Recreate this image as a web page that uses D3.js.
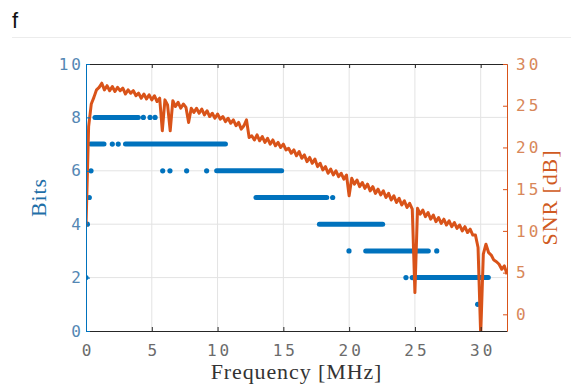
<!DOCTYPE html>
<html>
<head>
<meta charset="utf-8">
<script src="https://cdn.jsdelivr.net/npm/d3@7"></script>
<style>
  body { margin: 0; background: #fff; }
  svg { display: block; }
  .tick-label { font-family: 'DejaVu Sans Mono', monospace; font-size: 16px; letter-spacing: 3px; }
  .axis-title { font-family: 'Liberation Serif', serif; font-size: 22px; letter-spacing: 0.9px; }
</style>
</head>
<body>
<svg id="chart" width="571" height="386"></svg>
<script>
// bit allocation: continuous runs of carriers at the same bit count
const runStart = [0.35, 0.68, 3.0, 9.93, 12.92, 17.74, 21.26, 25.13];
const runEnd   = [1.37, 3.98, 10.6, 14.87, 18.3, 22.55, 26.02, 30.58];
const runBits  = [7, 8, 7, 6, 5, 4, 3, 2];

// isolated carriers
const dotFreq = [0.0, 0.1, 0.25, 0.38, 2.0, 2.45, 4.36, 4.87, 5.25, 5.83, 6.38, 7.65, 9.17, 18.75, 19.99, 26.66, 24.32, 24.8, 29.77];
const dotBits = [2, 4, 5, 6, 7, 7, 8, 8, 8, 6, 6, 6, 6, 5, 3, 3, 2, 2, 1];

// SNR trace, sampled every 0.2 MHz from 0 to 32 MHz
const SNR_STEP = 0.2;
const snrDb = [
  10.5, 22.5, 25.2, 26.0, 26.9, 27.2, 27.7, 26.9, 27.4, 26.8,
  27.3, 26.7, 27.2, 26.8, 27.1, 26.4, 26.9, 26.5, 26.8, 26.2,
  26.5, 25.9, 26.4, 25.8, 26.3, 25.7, 26.2, 25.5, 25.9, 22.0,
  25.7, 25.1, 22.0, 25.6, 24.9, 25.4, 24.7, 25.2, 24.8, 23.0,
  24.7, 24.2, 24.7, 24.1, 24.6, 23.9, 24.4, 23.7, 24.1, 23.5,
  24.0, 23.4, 23.7, 23.1, 23.5, 22.9, 23.3, 22.6, 23.0, 22.2,
  22.6, 23.3, 21.2, 21.4, 20.9, 21.5, 20.8, 21.3, 20.6, 21.1,
  20.4, 20.9, 20.2, 20.6, 20.0, 20.4, 19.7, 19.9, 19.3, 19.7,
  19.0, 19.5, 18.7, 19.1, 18.3, 18.8, 18.1, 18.6, 17.7, 18.1,
  17.3, 17.7, 16.9, 17.4, 16.7, 17.2, 16.5, 16.9, 16.2, 16.7,
  14.2, 16.3, 15.6, 16.1, 15.3, 15.8, 15.1, 15.6, 14.8, 15.3,
  14.5, 15.0, 14.3, 14.8, 14.0, 14.5, 13.7, 14.2, 13.4, 13.9,
  13.1, 13.6, 12.8, 13.3, 12.6, 2.6, 12.7, 12.0, 12.5, 11.7,
  12.2, 11.4, 11.9, 11.1, 11.6, 10.9, 11.4, 10.7, 11.2, 10.5,
  11.0, 10.3, 10.7, 10.0, 10.5, 9.8, 10.2, 9.5, 9.5, 8.0,
  -2.5, 7.2, 8.4, 7.4, 7.1, 6.5, 6.3, 6.0, 5.4, 5.8,
  4.8
];

const xTicks = [0, 5, 10, 15, 20, 25, 30];
const bitTicks = [0, 2, 4, 6, 8, 10];
const snrTicks = [0, 5, 10, 15, 20, 25, 30];

const BLUE = '#0072BD';
const ORANGE = '#D95319';
const MARGINS = { top: 64, right: 64, bottom: 55, left: 86 };

const svg = d3.select('#chart');
const W = +svg.attr('width');
const H = +svg.attr('height');
const plotW = W - MARGINS.left - MARGINS.right;
const plotH = H - MARGINS.top - MARGINS.bottom;

// panel letter + separator
svg.append('line')
  .attr('x1', 12).attr('x2', W).attr('y1', 37.5).attr('y2', 37.5)
  .attr('stroke', '#ececec');
svg.append('text')
  .attr('x', 12).attr('y', 28)
  .attr('font-family', 'Liberation Sans, sans-serif')
  .attr('font-size', 22)
  .attr('fill', '#111')
  .text('f');

const x = d3.scaleLinear().domain([0, 32]).range([0, plotW]);
const yBits = d3.scaleLinear().domain([0, 10]).range([plotH, 0]);
const ySnr = d3.scaleLinear().domain([-2, 30]).range([plotH, 0]);

const g = svg.append('g').attr('transform', `translate(${MARGINS.left},${MARGINS.top})`);

svg.append('defs').append('clipPath').attr('id', 'plot-clip')
  .append('rect').attr('width', plotW).attr('height', plotH);

// grid
const grid = g.append('g').attr('class', 'grid').attr('stroke', '#e3e3e3').attr('stroke-width', 1);
grid.selectAll('line.v')
  .data(xTicks.filter(d => d > 0))
  .join('line')
  .attr('class', 'v')
  .attr('x1', d => x(d)).attr('x2', d => x(d))
  .attr('y1', 0).attr('y2', plotH);
grid.selectAll('line.h')
  .data(bitTicks.filter(d => d > 0 && d < 10))
  .join('line')
  .attr('class', 'h')
  .attr('x1', 0).attr('x2', plotW)
  .attr('y1', d => yBits(d)).attr('y2', d => yBits(d));

// bits
const bitsG = g.append('g').attr('clip-path', 'url(#plot-clip)');
bitsG.selectAll('line.run')
  .data(runBits.map((b, i) => ({ start: runStart[i], end: runEnd[i], bits: b })))
  .join('line')
  .attr('class', 'run')
  .attr('x1', d => x(d.start)).attr('x2', d => x(d.end))
  .attr('y1', d => yBits(d.bits)).attr('y2', d => yBits(d.bits))
  .attr('stroke', BLUE)
  .attr('stroke-width', 5)
  .attr('stroke-linecap', 'round');
bitsG.selectAll('circle')
  .data(dotFreq.map((f, i) => ({ f, bits: dotBits[i] })))
  .join('circle')
  .attr('cx', d => x(d.f))
  .attr('cy', d => yBits(d.bits))
  .attr('r', 2.6)
  .attr('fill', BLUE);

// snr
const snrLine = d3.line()
  .x((d, i) => x(i * SNR_STEP))
  .y(d => ySnr(d));
g.append('path')
  .attr('clip-path', 'url(#plot-clip)')
  .datum(snrDb)
  .attr('d', snrLine)
  .attr('fill', 'none')
  .attr('stroke', ORANGE)
  .attr('stroke-width', 3)
  .attr('stroke-linejoin', 'round');

// axes
const styleTicks = (sel, color, textColor) => {
  sel.select('.domain').attr('stroke', color);
  sel.selectAll('.tick line').attr('stroke', color);
  sel.selectAll('.tick text')
    .attr('class', 'tick-label')
    .attr('fill', textColor)
    .attr('font-family', null)
    .attr('font-size', null);
  sel.attr('font-family', null).attr('font-size', null);
};

const xAxis = g.append('g')
  .attr('transform', `translate(0,${plotH})`)
  .call(d3.axisBottom(x).tickValues(xTicks).tickSize(-4).tickSizeOuter(0).tickPadding(14));
styleTicks(xAxis, '#262626', '#6b6b6b');
xAxis.selectAll('.tick text').attr('dx', '1.5px');

const topAxis = g.append('g')
  .call(d3.axisTop(x).tickValues(xTicks).tickSize(-4).tickSizeOuter(0).tickFormat(''));
styleTicks(topAxis, '#262626', '#6b6b6b');

const leftAxis = g.append('g')
  .call(d3.axisLeft(yBits).tickValues(bitTicks).tickSize(-4).tickSizeOuter(0).tickPadding(2));
styleTicks(leftAxis, BLUE, '#5487b4');

const rightAxis = g.append('g')
  .attr('transform', `translate(${plotW},0)`)
  .call(d3.axisRight(ySnr).tickValues(snrTicks).tickSize(-4).tickSizeOuter(0).tickPadding(9));
styleTicks(rightAxis, ORANGE, '#d8875a');

// titles
g.append('text')
  .attr('class', 'axis-title')
  .attr('x', plotW / 2).attr('y', plotH + 48)
  .attr('text-anchor', 'middle')
  .attr('fill', '#333')
  .text('Frequency [MHz]');

g.append('text')
  .attr('class', 'axis-title')
  .attr('transform', `translate(${-40},${plotH / 2}) rotate(-90)`)
  .attr('text-anchor', 'middle')
  .attr('fill', '#1f6fa8')
  .text('Bits');

g.append('text')
  .attr('class', 'axis-title')
  .attr('transform', `translate(${plotW + 50},${plotH / 2}) rotate(-90)`)
  .attr('text-anchor', 'middle')
  .attr('fill', '#d05a22')
  .text('SNR [dB]');
</script>
</body>
</html>
